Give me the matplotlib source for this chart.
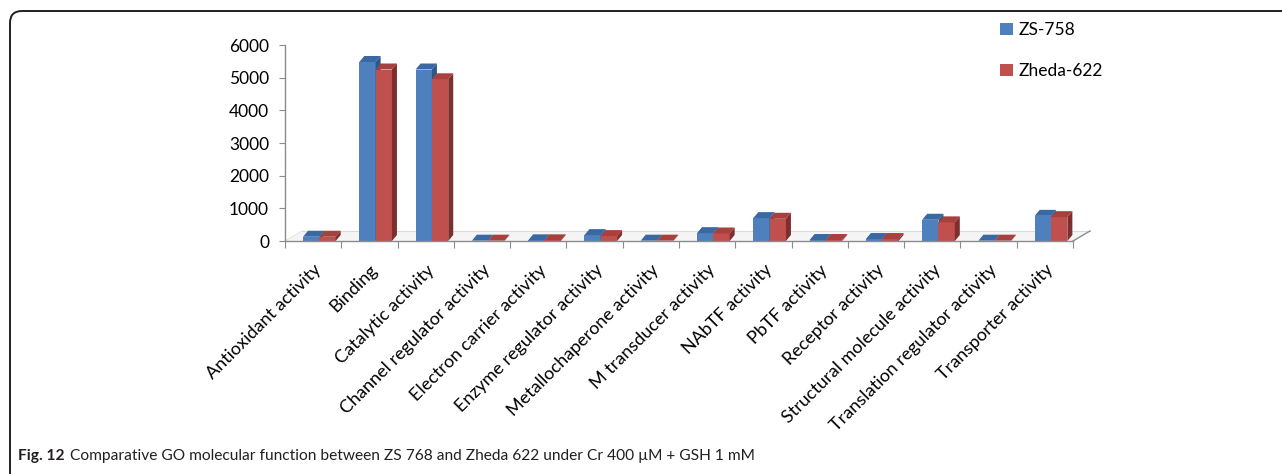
import numpy as np
import matplotlib.pyplot as plt
from matplotlib.patches import Rectangle, Polygon, FancyBboxPatch, Patch
from matplotlib.transforms import IdentityTransform

categories = ["Antioxidant activity", "Binding", "Catalytic activity",
              "Channel regulator activity", "Electron carrier activity",
              "Enzyme regulator activity", "Metallochaperone activity",
              "M transducer activity", "NAbTF activity", "PbTF activity",
              "Receptor activity", "Structural molecule activity",
              "Translation regulator activity", "Transporter activity"]
zs758 = [130, 5480, 5250, 10, 20, 180, 10, 240, 700, 30, 60, 650, 10, 770]
zheda622 = [130, 5250, 4950, 10, 20, 150, 10, 230, 680, 30, 60, 570, 10, 730]
series_names = ["ZS-758", "Zheda-622"]

W, H = 1282, 474
fig = plt.figure(figsize=(W / 100, H / 100), dpi=100)
plt.rcParams['font.family'] = ['Lato', 'DejaVu Sans']

# outer rounded frame (runs off the right and bottom edges)
frame = FancyBboxPatch((10, -40), 1320, H - 11 + 40,
                       boxstyle="round,pad=0,rounding_size=12",
                       transform=IdentityTransform(), fill=False,
                       edgecolor="#231f20", linewidth=1.4)
fig.patches.append(frame)

x_left, x_right, y0, y6000 = 285, 1073, 241, 45
ax = fig.add_axes([x_left / W, 1 - y0 / H, (x_right - x_left) / W, (y0 - y6000) / H])
n = len(categories)
ax.set_xlim(0, n)
ax.set_ylim(0, 6000)
for s in ["top", "right"]:
    ax.spines[s].set_visible(False)
for s in ["left", "bottom"]:
    ax.spines[s].set_color("#8c8c8c")
    ax.spines[s].set_linewidth(1.0)

# pixel -> data scale for the 3D depth
px_x = n / (x_right - x_left)
px_y = 6000 / (y0 - y6000)
dx, dy = 5 * px_x, 6 * px_y
fdx, fdy = 17 * px_x, 10 * px_y

# floor
floor = Polygon([(0, 0), (n, 0), (n + fdx, fdy), (fdx, fdy)], closed=True,
                facecolor="#f5f5f5", edgecolor="none", zorder=0, clip_on=False)
ax.add_patch(floor)
ax.plot([fdx, n + fdx], [fdy, fdy], color="#dadada", lw=0.8, zorder=0.5, clip_on=False)
ax.plot([0, fdx], [0, fdy], color="#e6e6e6", lw=0.8, zorder=0.5, clip_on=False)
ax.plot([n, n + fdx], [0, fdy], color="#8c8c8c", lw=1.0, zorder=0.5, clip_on=False)

colors = {
    "ZS-758": ("#4d80bd", "#3a68a3", "#2f5688"),
    "Zheda-622": ("#c0504d", "#a8403d", "#7e2f2d"),
}


def bar3d(x0, w, h, front, top, side):
    x1 = x0 + w
    ax.add_patch(Rectangle((x0, 0), w, h, facecolor=front, edgecolor="none",
                           zorder=2, clip_on=False))
    ax.add_patch(Polygon([(x0, h), (x1, h), (x1 + dx, h + dy), (x0 + dx, h + dy)],
                         closed=True, facecolor=top, edgecolor="none", zorder=2,
                         clip_on=False))
    ax.add_patch(Polygon([(x1, 0), (x1 + dx, dy), (x1 + dx, h + dy), (x1, h)],
                         closed=True, facecolor=side, edgecolor="none", zorder=2,
                         clip_on=False))


bw = 0.29
for i in range(n):
    bar3d(i + 0.32, bw, zs758[i], *colors["ZS-758"])
    bar3d(i + 0.32 + bw, bw, zheda622[i], *colors["Zheda-622"])

ax.set_yticks(np.arange(0, 6001, 1000))
ax.tick_params(axis="y", length=4.5, color="#8c8c8c", labelsize=12.5, pad=7)
ax.set_xticks(np.arange(n + 1))
ax.set_xticklabels([])
ax.tick_params(axis="x", which="major", length=5, color="#8c8c8c", direction="out")
ax.set_xticks(np.arange(n) + 0.5, minor=True)
ax.set_xticklabels(categories, minor=True, rotation=45, ha="right",
                   rotation_mode="anchor", fontsize=13)
ax.tick_params(axis="x", which="minor", length=0, pad=15)

handles = [Patch(facecolor=colors[s][0], edgecolor="none") for s in series_names]
fig.legend(handles, series_names, loc="upper left",
           bbox_to_anchor=(1000 / W, 1 - 22 / H), frameon=False, fontsize=12.5,
           handlelength=0.75, handleheight=0.75, handletextpad=0.3,
           labelspacing=1.45, borderpad=0, borderaxespad=0)

# caption
cy = 1 - 456 / H
t1 = fig.text(18 / W, cy, "Fig. 12", fontsize=11.2, fontweight="bold",
              va="center", color="#231f20")
fig.canvas.draw()
bb = t1.get_window_extent(fig.canvas.get_renderer())
fig.text((bb.x1 + 5) / W, cy,
         "Comparative GO molecular function between ZS 768 and Zheda 622 under Cr 400 µM + GSH 1 mM",
         fontsize=11.2, va="center", color="#231f20")

fig.savefig("out.png", dpi=100)
